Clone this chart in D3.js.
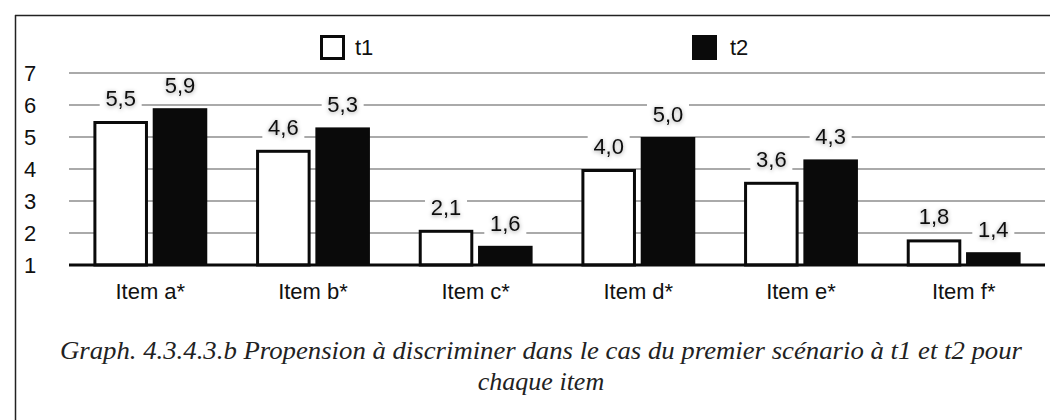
<!DOCTYPE html>
<html><head><meta charset="utf-8">
<script src="https://cdn.jsdelivr.net/npm/d3@7"></script>
<style>body{margin:0;background:#fff}svg{display:block}</style>
</head><body>
<svg id="c" width="1050" height="420"></svg>
<script>
const categories = ["Item a*","Item b*","Item c*","Item d*","Item e*","Item f*"];
const seriesNames = ["t1","t2"];
const t1 = [5.5,4.6,2.1,4.0,3.6,1.8];
const t2 = [5.9,5.3,1.6,5.0,4.3,1.4];
const yTicks = [1,2,3,4,5,6,7];
const caption = ["Graph. 4.3.4.3.b Propension à discriminer dans le cas du premier scénario à t1 et t2 pour","chaque item"];

const svg = d3.select("#c");
const defs = svg.append("defs");
const f = defs.append("filter").attr("id","sh").attr("x","-50%").attr("y","-50%").attr("width","200%").attr("height","200%");
f.append("feDropShadow").attr("dx",0).attr("dy",1).attr("stdDeviation",2).attr("flood-color","#000").attr("flood-opacity",0.4);

// frame
svg.append("line").attr("x1",15).attr("x2",1050).attr("y1",15.5).attr("y2",15.5).attr("stroke","#222").attr("stroke-width",1.5);
svg.append("line").attr("x1",15.5).attr("x2",15.5).attr("y1",15).attr("y2",420).attr("stroke","#222").attr("stroke-width",1.5);

const x = d3.scaleBand().domain(categories).range([69,1045]).paddingInner(0.3).paddingOuter(0.15);
const xs = d3.scaleBand().domain(seriesNames).range([0,x.bandwidth()]).paddingInner(0.08);
const y = d3.scaleLinear().domain([1,7]).range([265,73]);

const font = "'Liberation Sans', Arial, sans-serif";

// grid
svg.append("g").selectAll("line").data(yTicks.filter(d=>d>1)).join("line")
  .attr("x1",69).attr("x2",1045).attr("y1",d=>y(d)).attr("y2",d=>y(d))
  .attr("stroke","#aaaaaa").attr("stroke-width",2);

// y labels
svg.append("g").selectAll("text").data(yTicks).join("text")
  .attr("x",24).attr("y",d=>y(d)+8).text(d=>d)
  .attr("font-family",font).attr("font-size",22).attr("fill","#111");

const data = categories.map((c,i)=>({c, vals:[{s:"t1",v:t1[i]},{s:"t2",v:t2[i]}]}));

const g = svg.append("g").selectAll("g").data(data).join("g").attr("transform",d=>`translate(${x(d.c)},0)`);
g.selectAll("rect").data(d=>d.vals).join("rect")
  .attr("x",d=>xs(d.s)+(d.s==="t1"?1.5:0))
  .attr("width",d=>xs.bandwidth()-(d.s==="t1"?3:0))
  .attr("y",d=>y(d.v)+(d.s==="t1"?1.5:0))
  .attr("height",d=>y(1)-y(d.v)-(d.s==="t1"?1.5:0))
  .attr("fill",d=>d.s==="t1"?"#fff":"#0a0a0a")
  .attr("stroke",d=>d.s==="t1"?"#0a0a0a":"none")
  .attr("stroke-width",3);

// axis baseline
svg.append("line").attr("x1",69).attr("x2",1045).attr("y1",y(1)).attr("y2",y(1)).attr("stroke","#0a0a0a").attr("stroke-width",3);

// value labels
const lab = g.selectAll("g.lab").data(d=>d.vals).join("g").attr("class","lab")
  .attr("transform",d=>`translate(${xs(d.s)+xs.bandwidth()/2},${y(d.v)-15})`);
lab.append("rect").attr("x",-21).attr("y",-18).attr("width",42).attr("height",22).attr("fill","#fff");
lab.append("text").attr("text-anchor","middle").attr("y",0)
  .text(d=>d3.format(".1f")(d.v).replace(".",","))
  .attr("font-family",font).attr("font-size",22).attr("fill","#111").attr("filter","url(#sh)");

// category labels
svg.append("g").selectAll("text").data(categories).join("text")
  .attr("x",d=>x(d)+x.bandwidth()/2).attr("y",299).attr("text-anchor","middle").text(d=>d)
  .attr("font-family",font).attr("font-size",22).attr("fill","#111");

// legend
const leg = [{s:"t1",x:320},{s:"t2",x:692}];
const lg = svg.append("g").selectAll("g").data(leg).join("g").attr("transform",d=>`translate(${d.x},35)`);
lg.append("rect").attr("x",d=>d.s==="t1"?1.5:0).attr("y",d=>d.s==="t1"?1.5:0)
  .attr("width",d=>d.s==="t1"?22:25).attr("height",d=>d.s==="t1"?22:25)
  .attr("fill",d=>d.s==="t1"?"#fff":"#0a0a0a").attr("stroke",d=>d.s==="t1"?"#0a0a0a":"none").attr("stroke-width",3);
lg.append("text").attr("x",d=>d.s==="t1"?35:38).attr("y",20).text(d=>d.s)
  .attr("font-family",font).attr("font-size",22).attr("fill","#111");

// caption
svg.append("g").selectAll("text").data(caption).join("text")
  .attr("x",541).attr("y",(d,i)=>359+i*31).attr("text-anchor","middle").text(d=>d)
  .attr("font-family","'Liberation Serif', serif").attr("font-style","italic")
  .attr("font-size",26).attr("fill","#222")
  .each(function(d,i){ if(i===0){ d3.select(this).attr("textLength",962).attr("lengthAdjust","spacingAndGlyphs"); } });
</script>
</body></html>
